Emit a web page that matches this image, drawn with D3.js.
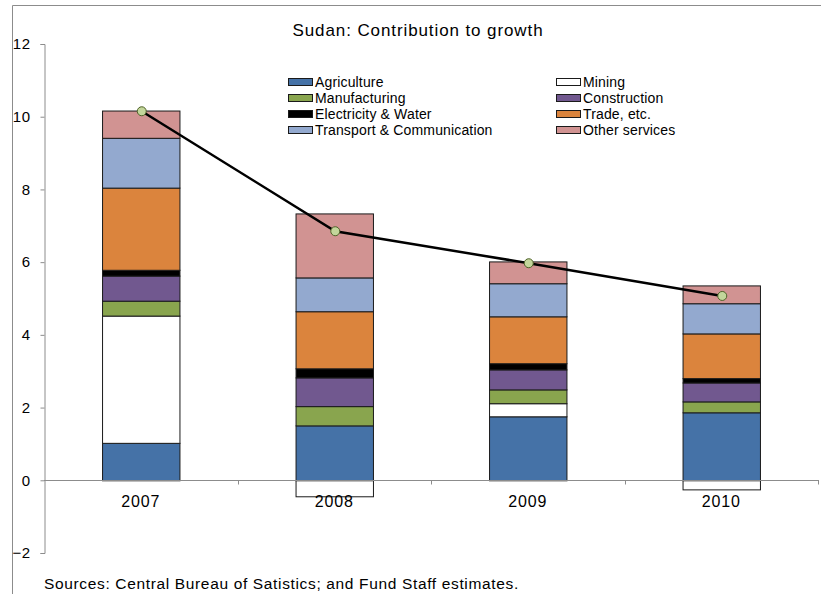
<!DOCTYPE html>
<html><head><meta charset="utf-8">
<script src="https://cdn.jsdelivr.net/npm/d3@7"></script>
<style>
body{margin:0;background:#fff;}
svg{display:block;font-family:"Liberation Sans",Arial,sans-serif;}
</style></head>
<body><svg id="c" width="821" height="594"></svg>
<script>
const years = ["2007","2008","2009","2010"];
const seriesNames = ["Agriculture","Mining","Manufacturing","Construction","Electricity & Water","Trade, etc.","Transport & Communication","Other services"];
const agriculture   = [1.03, 1.51, 1.76, 1.87];
const mining        = [3.50, -0.44, 0.36, -0.25];
const manufacturing = [0.41, 0.53, 0.38, 0.30];
const construction  = [0.69, 0.79, 0.55, 0.52];
const electricity   = [0.16, 0.25, 0.17, 0.12];
const trade         = [2.26, 1.57, 1.29, 1.23];
const transport     = [1.37, 0.93, 0.91, 0.83];
const otherServices = [0.75, 1.76, 0.60, 0.49];
const totalGrowth   = [10.15, 6.85, 5.97, 5.07];
const yTicks = [-2, 0, 2, 4, 6, 8, 10, 12];
const colors = ["#4572a7","#ffffff","#89a54e","#71588f","#000000","#db843d","#93a9cf","#d19392"];

const seriesValues = [agriculture, mining, manufacturing, construction, electricity, trade, transport, otherServices];
const table = years.map((y,i)=>{const o={year:y}; seriesNames.forEach((n,k)=>o[n]=seriesValues[k][i]); return o;});

const svg = d3.select("#c");
const x = d3.scaleBand().domain(years).range([44,818]).paddingInner(0.6).paddingOuter(0.3);
const y = d3.scaleLinear().domain([-2,12]).range([553,44]);

// frame
svg.append("path").attr("d","M12.5,600 V5.5 H830").attr("fill","none").attr("stroke","#8c8c8c").attr("stroke-width",1);

// title
svg.append("text").attr("x",418).attr("y",36).attr("text-anchor","middle")
  .style("font-size","17px").style("letter-spacing","0.9px").attr("fill","#000").text("Sudan: Contribution to growth");

// y axis
const yAxis = svg.append("g").attr("transform","translate(44.5,0)")
  .call(d3.axisLeft(y).tickValues(yTicks).tickSize(4).tickPadding(10).tickFormat(d3.format("d")));
yAxis.select(".domain").attr("stroke","#8c8c8c");
yAxis.selectAll(".tick line").attr("stroke","#8c8c8c");
yAxis.selectAll("text").style("font-size","15px").style("letter-spacing","0.5px").style("font-family","'Liberation Sans',Arial,sans-serif").attr("fill","#000");

// stacked bars
const stack = d3.stack().keys(seriesNames).offset(d3.stackOffsetDiverging);
const layers = stack(table);
const g = svg.append("g");
layers.forEach((layer,k)=>{
  g.selectAll(null).data(layer).enter().append("rect")
    .attr("x",d=>x(d.data.year)+0.5)
    .attr("width",x.bandwidth())
    .attr("y",d=>y(Math.max(d[0],d[1]))+0.5)
    .attr("height",d=>Math.abs(y(d[0])-y(d[1])))
    .attr("fill",colors[k]).attr("stroke","#1a1a1a").attr("stroke-width",1);
});

// x axis
const xAxisY = Math.round(y(0))+0.5;
svg.append("line").attr("x1",44).attr("x2",819).attr("y1",xAxisY).attr("y2",xAxisY).attr("stroke","#8c8c8c");
const bounds = d3.range(years.length+1).map(i=>x.range()[0]+i*x.step());
svg.selectAll(null).data(bounds.slice(1)).enter().append("line")
  .attr("x1",d=>Math.round(d)+0.5).attr("x2",d=>Math.round(d)+0.5)
  .attr("y1",xAxisY).attr("y2",xAxisY+4).attr("stroke","#8c8c8c");
svg.selectAll(null).data(years).enter().append("text")
  .attr("x",d=>x(d)+x.bandwidth()/2).attr("y",507).attr("text-anchor","middle")
  .style("font-size","16px").style("letter-spacing","0.8px").attr("fill","#000").text(d=>d);

// line
const pts = years.map((yr,i)=>[x(yr)+x.bandwidth()/2+1, y(totalGrowth[i])]);
svg.append("path").attr("d",d3.line()(pts)).attr("fill","none").attr("stroke","#000").attr("stroke-width",2.5);
svg.selectAll(null).data(pts).enter().append("circle")
  .attr("cx",d=>d[0]).attr("cy",d=>d[1]).attr("r",4.5)
  .attr("fill","#c3d69b").attr("stroke","#4f6228").attr("stroke-width",1);

// legend
const leg = svg.append("g");
seriesNames.forEach((n,k)=>{
  const col = k%2, row = Math.floor(k/2);
  const lx = col===0 ? 288 : 556, ly = 82 + row*16;
  leg.append("rect").attr("x",lx+0.5).attr("y",ly-3.5).attr("width",24).attr("height",7)
    .attr("fill",colors[k]).attr("stroke","#1a1a1a").attr("stroke-width",1);
  leg.append("text").attr("x",lx+27).attr("y",ly+5).style("font-size","14px").style("letter-spacing","0.15px").attr("fill","#000").text(n);
});

// source
svg.append("text").attr("x",44).attr("y",589).style("font-size","15.5px").style("letter-spacing","0.65px").attr("fill","#000")
  .text("Sources: Central Bureau of Satistics; and Fund Staff estimates.");
</script>
</body></html>
